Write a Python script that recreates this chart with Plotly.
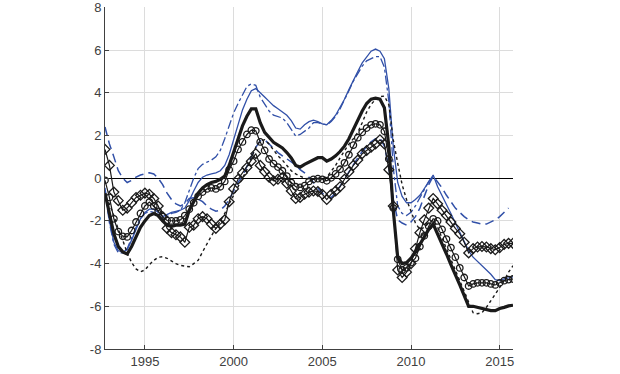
import plotly.graph_objects as go

# quarterly observation dates, 1992Q4 .. 2015Q4
start_year = 1992.75
n_obs = 93
dates = [start_year + 0.25 * i for i in range(n_obs)]

thick_black = [
    -0.7, -1.6, -2.6, -3.2, -3.45, -3.55, -3.2, -2.75, -2.3, -2.0,
    -1.75, -1.65, -1.75, -2.0, -2.2, -2.25, -2.2, -2.2, -2.15, -1.5,
    -1.1, -0.7, -0.45, -0.3, -0.2, -0.15, -0.05, 0.1, 0.6, 1.2,
    1.85, 2.45, 2.9, 3.25, 3.25, 2.6, 2.15, 1.9, 1.68, 1.55,
    1.42, 1.2, 0.95, 0.6, 0.52, 0.65, 0.75, 0.88, 0.96, 0.96,
    0.8, 0.9, 1.05, 1.25, 1.5, 1.85, 2.3, 2.75, 3.15, 3.5,
    3.7, 3.75, 3.7, 3.3, 1.5, -1.5, -3.7, -4.0, -3.95, -3.75,
    -3.45, -3.1, -2.75, -2.4, -2.15, -2.6, -3.1, -3.55, -4.05, -4.5,
    -5.0, -5.5, -6.0, -6.0, -6.05, -6.1, -6.15, -6.2, -6.2, -6.1,
    -6.05, -5.98, -5.95,
]

circles = [
    -0.1, -0.9, -1.9, -2.5, -2.72, -2.75, -2.45, -2.05, -1.65, -1.3,
    -1.12, -1.3, -1.55, -1.8, -1.98, -2.0, -2.0, -1.95, -1.75, -1.45,
    -1.15, -0.85, -0.65, -0.5, -0.45, -0.5, -0.4, -0.15, 0.4, 0.8,
    1.35, 1.7, 2.05, 2.25, 2.22, 1.7, 1.3, 0.9, 0.68, 0.52,
    0.35, 0.1, -0.2, -0.4, -0.43, -0.35, -0.15, -0.05, -0.02, -0.05,
    -0.12, 0.02, 0.2, 0.42, 0.72, 1.1, 1.55, 1.9, 2.15, 2.35,
    2.5, 2.55, 2.5, 2.2, 0.9, -1.4, -3.8, -4.3, -4.2, -3.95,
    -3.75, -3.2, -2.7, -2.25, -1.9, -2.0, -2.4, -2.85, -3.25, -3.7,
    -4.2, -4.65, -5.05, -4.95, -4.9, -4.9, -4.9, -4.95, -5.0, -4.9,
    -4.8, -4.75, -4.72,
]

diamonds = [
    1.35, 0.6, -0.65, -1.05, -1.5, -1.4, -1.15, -0.9, -0.8, -0.7,
    -0.75, -0.95, -1.3, -1.8, -2.35, -2.55, -2.65, -2.75, -3.0, -2.3,
    -2.2, -1.9, -1.8, -1.9, -2.15, -2.35, -2.15, -1.95, -1.1, -0.5,
    -0.05, 0.25, 0.5, 0.8, 1.15, 0.6, 0.3, 0.05, -0.12, -0.05,
    0.03, -0.25, -0.6, -0.95, -0.9, -0.75, -0.65, -0.6, -0.62, -0.75,
    -1.0, -0.75, -0.6, -0.4, -0.05, 0.3, 0.6, 0.85, 1.15, 1.3,
    1.45, 1.6, 1.8, 1.6, 0.4, -1.3, -4.3, -4.65, -4.4, -4.0,
    -3.3, -2.55, -1.95, -1.4, -0.95, -1.2, -1.5, -1.75, -2.05, -2.35,
    -2.6, -3.0, -3.5, -3.3, -3.22, -3.2, -3.22, -3.3, -3.35, -3.25,
    -3.1, -3.05, -3.05,
]

blue_solid = [
    -0.45, -2.0, -3.0, -3.4, -3.45, -3.35, -2.9, -2.4, -1.9, -1.6,
    -1.45, -1.45, -1.6, -1.8, -1.7, -1.6, -1.55, -1.5, -1.4, -1.05,
    -0.6, -0.2, 0.05, 0.15, 0.2, 0.25, 0.35, 0.6, 1.1, 1.8,
    2.5, 3.2, 3.7, 4.1, 4.2, 3.98, 3.8, 3.6, 3.4, 3.25,
    3.12, 2.95, 2.7, 2.35, 2.3, 2.5, 2.65, 2.72, 2.65, 2.55,
    2.5, 2.7, 2.95, 3.3, 3.7, 4.15, 4.6, 5.0, 5.4, 5.7,
    5.95, 6.05, 5.95, 5.6, 4.2, 1.5, -0.2, -0.85, -1.15, -1.15,
    -1.0, -0.8, -0.5, -0.15, 0.15, -0.4, -0.8, -1.2, -1.65, -2.1,
    -2.55, -3.0, -3.4, -3.7, -3.9, -4.1, -4.3, -4.5, -4.75, -4.8,
    -4.72, -4.68, -4.62,
]

blue_dashdot = [
    -0.6, -2.1, -3.1, -3.5, -3.5, -3.3, -2.8, -2.3, -1.9, -1.65,
    -1.55, -1.6, -1.75, -1.9, -1.8, -1.65, -1.6, -1.5, -1.15, -0.6,
    0.0, 0.45, 0.65, 0.75, 0.85, 1.0, 1.3, 1.85, 2.45, 3.05,
    3.5, 3.9, 4.3, 4.42, 4.35, 3.8, 3.45, 3.15, 2.95, 2.88,
    2.82, 2.6, 2.3, 1.97, 2.05, 2.2, 2.35, 2.6, 2.6, 2.55,
    2.5, 2.65, 2.9, 3.25, 3.65, 4.1, 4.55, 4.9, 5.25, 5.5,
    5.6, 5.7, 5.7, 5.2, 3.6, 0.5, -1.3, -1.65, -1.75, -1.6,
    -1.3, -0.9, -0.5, -0.15, 0.1,
]

blue_dashed = [
    2.4, 1.6, 1.0, 0.35, 0.0, -0.2, -0.1, 0.05, 0.15, 0.22,
    0.26, 0.2, 0.0, -0.3, -0.7, -1.0, -1.2, -1.3, -1.2, -0.95,
    -0.92, -0.98, -1.1, -1.3, -1.45, -1.55, -1.5, -1.3, -1.0, -0.6,
    -0.2, 0.1, 0.55, 1.0, 1.45, 1.75, 1.8, 1.6, 1.4, 1.2,
    1.05, 0.9, 0.75, 0.62, 0.4, 0.25, 0.05, -0.2, -0.45, -0.7,
    -0.85, -0.9, -0.7, -0.4, -0.05, 0.3, 0.65, 0.95, 1.25, 1.5,
    1.7, 1.85, 1.9, 1.5, 0.5, -1.0, -1.95, -2.1, -2.2, -2.05,
    -1.8, -1.4, -0.85, -0.3, 0.1, -0.15, -0.45, -0.8, -1.1, -1.4,
    -1.6, -1.8, -1.95, -2.05, -2.1, -2.15, -2.15, -2.05, -1.95, -1.8,
    -1.6, -1.4,
]

dotted = [
    -0.9, -1.2, -1.75, -2.4, -2.9, -3.5, -3.95, -4.25, -4.38, -4.3,
    -4.05, -3.85, -3.7, -3.68, -3.75, -3.88, -4.0, -4.08, -4.12, -4.15,
    -4.0, -3.85, -3.45, -3.05, -2.7, -2.35, -2.0, -1.65, -1.2, -0.8,
    -0.35, 0.0, 0.4, 0.95, 1.45, 1.75, 1.8, 1.6, 1.3, 1.05,
    0.85, 0.6, 0.35, 0.2, 0.1, 0.0, -0.05, -0.05, 0.0, 0.0,
    0.05, 0.3, 0.6, 0.95, 1.3, 1.6, 1.85, 2.15, 2.6, 3.1,
    3.45, 3.7, 3.82, 3.85, 3.45, 1.8, 0.7, -0.3, -1.0, -1.6,
    -2.1, -2.4, -2.3, -2.1, -1.95, -2.3, -2.8, -3.3, -3.8, -4.3,
    -4.8, -5.3, -5.8, -6.3, -6.35, -6.3, -6.05, -5.75, -5.4, -5.1,
    -4.8, -4.4, -4.1,
]

x_tick_vals = [1995, 2000, 2005, 2010, 2015]
x_tick_text = ["1995", "2000", "2005", "2010", "2015"]
y_tick_vals = [-8, -6, -4, -2, 0, 2, 4, 6, 8]
y_tick_text = ["-8", "-6", "-4", "-2", "0", "2", "4", "6", "8"]

BLUE = "#3150a8"
BLACK = "#1a1a1a"

fig = go.Figure()

fig.add_trace(go.Scatter(x=dates[:len(blue_dashed)], y=blue_dashed, mode="lines",
                         line=dict(color=BLUE, width=1.5, dash="9px,5px")))
fig.add_trace(go.Scatter(x=dates[:len(blue_dashdot)], y=blue_dashdot, mode="lines",
                         line=dict(color=BLUE, width=1.3, dash="dashdot")))
fig.add_trace(go.Scatter(x=dates, y=blue_solid, mode="lines",
                         line=dict(color=BLUE, width=1.3)))
fig.add_trace(go.Scatter(x=dates, y=dotted, mode="lines",
                         line=dict(color=BLACK, width=1.4, dash="dot")))
fig.add_trace(go.Scatter(x=dates, y=diamonds, mode="lines+markers",
                         line=dict(color=BLACK, width=1.2),
                         marker=dict(symbol="diamond-open", size=7.5, color=BLACK,
                                     line=dict(width=1.3, color=BLACK))))
fig.add_trace(go.Scatter(x=dates, y=circles, mode="lines+markers",
                         line=dict(color=BLACK, width=1.2),
                         marker=dict(symbol="circle-open", size=6.5, color=BLACK,
                                     line=dict(width=1.3, color=BLACK))))
fig.add_trace(go.Scatter(x=dates, y=thick_black, mode="lines",
                         line=dict(color=BLACK, width=3.2)))

fig.update_layout(
    width=620, height=374,
    margin=dict(l=105, r=107, t=7, b=25, autoexpand=False),
    paper_bgcolor="white", plot_bgcolor="white",
    showlegend=False,
    font=dict(family="Liberation Sans, Arial, sans-serif", size=13, color="#404040"),
)
fig.update_xaxes(
    range=[start_year, dates[-1]],
    tickvals=x_tick_vals, ticktext=x_tick_text,
    showgrid=True, gridcolor="#dcdcdc", gridwidth=1,
    showline=True, linecolor="#404040", linewidth=1,
    ticks="inside", ticklen=4, tickcolor="#404040",
    zeroline=False, ticklabeloverflow="allow", automargin=False,
)
fig.update_yaxes(
    range=[-8, 8.02],
    tickvals=y_tick_vals, ticktext=y_tick_text,
    showgrid=True, gridcolor="#dcdcdc", gridwidth=1,
    showline=True, linecolor="#404040", linewidth=1,
    ticks="inside", ticklen=4, tickcolor="#404040",
    zeroline=True, zerolinecolor="black", zerolinewidth=1,
    ticklabeloverflow="allow", automargin=False,
)

fig.write_html("out.html", config={"displayModeBar": False},
               post_script="document.body.style.margin='0';")
